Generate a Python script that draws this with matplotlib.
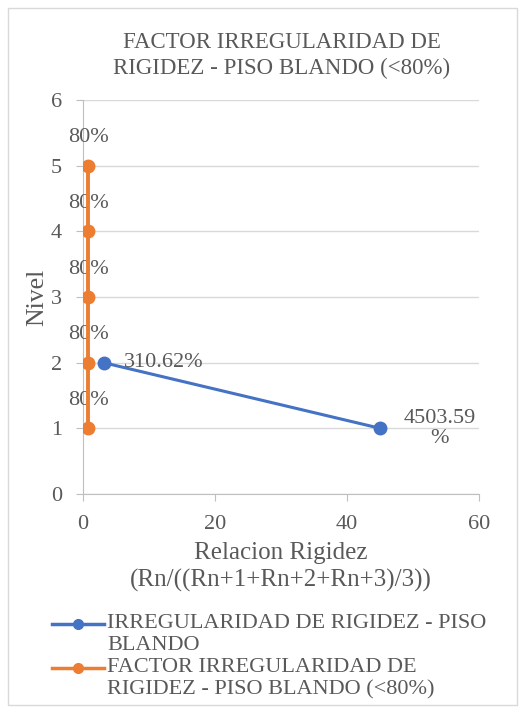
import matplotlib
matplotlib.use("Agg")
import matplotlib.pyplot as plt
from matplotlib.patches import Rectangle
from matplotlib.lines import Line2D

plt.rcParams['font.family'] = ['Liberation Serif', 'DejaVu Serif']

# Data
niveles_blue = [1, 2]
relacion_blue = [45.0359, 3.1062]
niveles_orange = [1, 2, 3, 4, 5]
factor_orange = [0.8, 0.8, 0.8, 0.8, 0.8]

serie_blue = "IRREGULARIDAD DE RIGIDEZ - PISO\nBLANDO"
serie_orange = "FACTOR IRREGULARIDAD DE\nRIGIDEZ - PISO BLANDO (<80%)"

BLUE = "#4472C4"
ORANGE = "#ED7D31"
TXT = "#595959"
GRID = "#D9D9D9"

W, H = 525, 715
fig = plt.figure(figsize=(W / 100, H / 100), dpi=100)
fig.patches.append(Rectangle((8/W, 10/H), 509/W, 697/H, transform=fig.transFigure,
                             fill=False, edgecolor="#D9D9D9", linewidth=1))

ax = fig.add_axes([83/W, 1 - 494/H, (479 - 83)/W, (494 - 100)/H])

ax.plot(relacion_blue, niveles_blue, color=BLUE, lw=2.2, marker='o', ms=9, zorder=3)
ax.plot(factor_orange, niveles_orange, color=ORANGE, lw=2.8, marker='o', ms=9, zorder=4)

for x, y in zip(factor_orange, niveles_orange):
    ax.annotate(f"{x*100:.0f}%", (x, y), xytext=(0, 20), textcoords='offset points',
                ha='center', va='center', fontsize=16, color=TXT)

for x, y in zip(relacion_blue, niveles_blue):
    if x > 40:
        ax.annotate(f"{x*100:.2f}\n%", (x, y), xytext=(17, 0), textcoords='offset points',
                    ha='left', va='center', fontsize=16, color=TXT, linespacing=1.1,
                    multialignment='center')
    else:
        ax.annotate(f"{x*100:.2f}%", (x, y), xytext=(15, 0), textcoords='offset points',
                    ha='left', va='center', fontsize=16, color=TXT)

ax.set_xlim(0, 60)
ax.set_ylim(0, 6)
ax.set_xticks([0, 20, 40, 60])
ax.set_yticks(range(0, 7))
ax.grid(axis='y', color=GRID, lw=1)
ax.set_axisbelow(True)
for s in ['top', 'right']:
    ax.spines[s].set_visible(False)
for s in ['left', 'bottom']:
    ax.spines[s].set_color("#BFBFBF")
ax.tick_params(axis='both', colors="#BFBFBF", labelcolor=TXT, labelsize=16, length=5)
ax.tick_params(axis='x', pad=10)
ax.tick_params(axis='y', pad=10)

ax.set_ylabel("Nivel", fontsize=18.5, color=TXT, labelpad=2)
ax.set_xlabel("Relacion Rigidez\n(Rn/((Rn+1+Rn+2+Rn+3)/3))", fontsize=18, color=TXT,
              labelpad=6, linespacing=1.25)

fig.text(282/W, 1 - 56/H, "FACTOR IRREGULARIDAD DE\nRIGIDEZ - PISO BLANDO (<80%)",
         ha='center', va='center', fontsize=16.5, color=TXT, linespacing=1.3)

# Legend: handle aligned with first text line of each entry
entries = [(serie_blue, BLUE, 624), (serie_orange, ORANGE, 668)]
for label, color, ypix in entries:
    yf = 1 - ypix / H
    fig.add_artist(Line2D([52/W, 104/W], [yf, yf], transform=fig.transFigure,
                          color=color, lw=2.5))
    fig.add_artist(Line2D([78/W], [yf], transform=fig.transFigure,
                          color=color, marker='o', ms=7, lw=0))
    fig.text(107/W, yf + 10/H, label, ha='left', va='top', fontsize=16, color=TXT,
             linespacing=1.25)

fig.savefig("out.png", dpi=100)
